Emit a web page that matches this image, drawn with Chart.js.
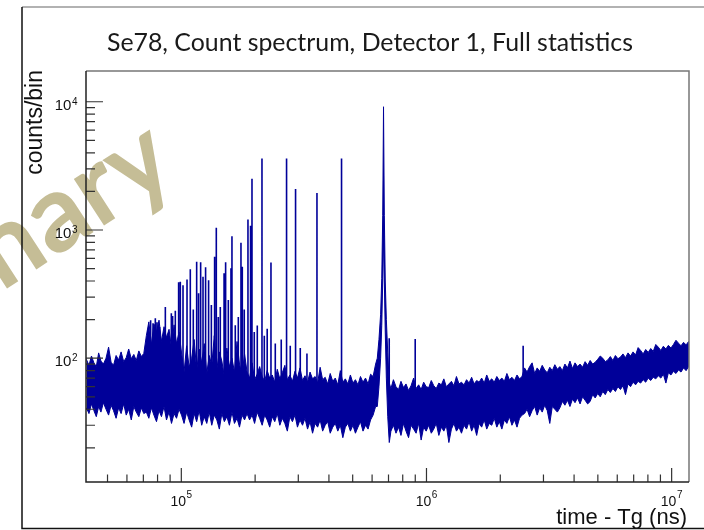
<!DOCTYPE html>
<html><head><meta charset="utf-8">
<script src="https://cdn.jsdelivr.net/npm/chart.js@4.4.1/dist/chart.umd.min.js"></script>
<style>html,body{margin:0;padding:0;background:#fff;}canvas{display:block;}</style>
</head><body>
<canvas id="c" width="704" height="530"></canvas>
<script>
const chartTitle = 'Se78, Count spectrum, Detector 1, Full statistics';
const xAxisTitle = 'time - Tg (ns)';
const yAxisTitle = 'counts/bin';
const watermarkText = 'Preliminary';

const xRange = [40850, 11770000];
const yRange = [10.83, 17370];
const xMajorTicks = [1e5, 1e6, 1e7];
const xTickExponents = ['5', '6', '7'];
const xMinorTicks = [5e4, 6e4, 7e4, 8e4, 9e4, 2e5, 3e5, 4e5, 5e5, 6e5, 7e5, 8e5, 9e5, 2e6, 3e6, 4e6, 5e6, 6e6, 7e6, 8e6, 9e6];
const yMajorTicks = [1e2, 1e3, 1e4];
const yTickExponents = ['2', '3', '4'];
const yMinorTicks = [20, 30, 40, 50, 60, 70, 80, 90, 200, 300, 400, 500, 600, 700, 800, 900, 2000, 3000, 4000, 5000, 6000, 7000, 8000, 9000];

// background band of the spectrum: bin time (ns), upper and lower envelope of counts/bin
const bandTimes = [
  41000, 42000, 43000, 44000, 45000, 46000, 47000, 48100, 49300, 50500, 51700, 52900, 54200, 55500, 56800, 58200, 59600, 61000, 62500, 64000, 65500, 67100, 68700, 70300,
  72000, 73700, 75500, 77300, 79200, 81100, 83000, 85000, 87000, 89100, 91200, 93400, 95600, 97900,
  100200, 102600, 105100, 107600, 110200, 112800, 115500, 118300, 121100, 124000, 127000, 130000, 133100, 136300, 139600, 142900, 146300, 149800, 153400, 157100, 160900, 164700, 168700, 172700, 176800, 181100,
  185400, 189800, 194400, 199000, 203800, 208700, 213700, 218800, 224000, 229400, 234900, 240500, 246300, 252200, 258200, 264400, 270700, 277200, 283900, 290700,
  297600, 304800, 312100, 319500, 327200, 335000, 343000, 351300, 359700, 368300, 377100, 386200, 395400, 404900, 414600, 424600, 434700, 445200, 455800, 466700,
  477900, 489400, 501100, 513100, 525400, 538000, 550900, 564100, 577700, 591500, 605700, 620200,
  630000, 640000, 650000, 657000, 663000, 668000, 673000, 679000, 686000, 695000,
  705000, 716000, 733000, 751000, 769000, 787000, 806000, 825000, 845000, 865000, 886000, 907000, 929000, 951000, 974000, 997000, 1021000, 1046000, 1071000, 1096000,
  1123000, 1150000, 1177000, 1205000, 1234000, 1264000, 1294000, 1325000, 1357000, 1389000, 1423000, 1457000, 1492000, 1528000, 1564000, 1602000, 1640000, 1679000, 1720000, 1761000,
  1803000, 1846000, 1890000, 1936000, 1982000, 2030000, 2078000, 2128000, 2179000, 2231000, 2285000, 2340000, 2396000, 2453000,
  2512000, 2572000, 2634000, 2697000, 2762000, 2828000, 2896000, 2965000, 3036000, 3109000, 3184000, 3260000, 3338000, 3418000, 3500000, 3584000, 3670000, 3758000, 3848000, 3941000,
  4035000, 4132000, 4231000, 4332000, 4436000, 4543000, 4652000, 4763000, 4877000, 4994000, 5114000, 5237000, 5362000, 5491000, 5623000, 5758000, 5896000, 6037000, 6182000, 6330000,
  6482000, 6637000, 6797000, 6960000, 7127000, 7298000, 7473000, 7652000, 7836000, 8024000, 8216000, 8413000, 8615000, 8822000, 9034000, 9251000, 9473000, 9700000, 9933000, 10171000,
  10415000, 10665000, 10921000, 11183000, 11452000, 11727000, 11900000
];
const bandUpper = [
  98, 88, 104, 92, 86, 110, 95, 90, 100, 122, 93, 88, 105, 97, 112, 94, 101, 118, 99, 107, 96, 114, 103, 109,
  150, 192, 128, 185, 160, 198, 135, 176, 145, 168, 120, 182, 130, 160,
  110, 78, 125, 85, 100, 140, 80, 118, 92, 130, 76, 105, 88, 150, 82, 112, 95, 72, 120, 86, 100, 78, 135, 90, 74, 108,
  78, 70, 92, 68, 75, 86, 72, 66, 80, 70, 74, 65, 82, 69, 77, 88, 68, 74, 66, 79,
  70, 84, 67, 73, 65, 78, 69, 72, 64, 85, 68, 71, 63, 76, 66, 70, 62, 80, 65, 69,
  63, 74, 64, 68, 62, 72, 65, 70, 63, 75, 72, 90,
  100, 140, 220, 420, 1300, 9140, 1300, 400, 200, 110,
  64, 58, 68, 60, 57, 66, 59, 63, 56, 61, 70, 58, 62, 57, 65, 60, 59, 67, 61, 58,
  64, 62, 69, 60, 63, 66, 61, 72, 63, 65, 62, 68, 64, 71, 63, 67, 65, 70, 64, 74,
  66, 69, 65, 72, 67, 70, 66, 76, 68, 71, 67, 74, 69, 72,
  84, 78, 86, 92, 76, 84, 79, 88, 81, 77, 85, 80, 89, 82, 86, 80, 90, 84, 95, 83,
  92, 86, 90, 85, 94, 88, 96, 90, 93, 98, 104, 100, 94, 97, 103, 96, 105, 99, 102, 108,
  101, 110, 104, 112, 106, 121, 115, 108, 117, 111, 119, 113, 128, 122, 115, 124, 118, 126, 120, 128,
  138, 131, 125, 133, 127, 135, 130
];
const bandLower = [
  41, 37, 44, 39, 35, 42, 38, 45, 40, 36, 43, 39, 34, 41, 37, 44, 36, 40, 33, 42, 38, 35, 41, 37,
  38, 34, 41, 36, 32, 39, 35, 42, 33, 38, 31, 37, 34, 40,
  36, 31, 38, 33, 29, 37, 32, 39, 30, 35, 31, 38, 30, 36, 33, 28, 37, 32, 35, 30, 38, 31, 34, 29, 36, 33,
  37, 33, 36, 31, 38, 34, 30, 36, 33, 29, 35, 32, 37, 30, 34, 31, 27, 35, 32, 36,
  29, 33, 30, 34, 28, 32, 26, 31, 29, 33, 27, 30, 32, 26, 29, 31, 27, 30, 24, 29,
  31, 27, 30, 26, 29, 32, 27, 30, 28, 33, 36, 42,
  42, 60, 100, 180, 400, 900, 400, 160, 70, 35,
  22, 27, 30, 26, 29, 25, 31, 27, 24, 30, 28, 26, 31, 23, 29, 27, 30, 26, 28, 31,
  25, 29, 27, 30, 22, 28, 31, 27, 29, 26, 30, 28, 32, 27, 30, 25, 31, 29, 33, 28,
  31, 30, 34, 29, 32, 28, 33, 31, 35, 30, 33, 29, 34, 36,
  37, 40, 35, 39, 42, 36, 41, 38, 43, 39, 31, 42, 40, 38, 41, 46, 43, 47, 42, 48,
  45, 49, 44, 50, 47, 44, 46, 52, 49, 53, 50, 55, 52, 57, 54, 58, 55, 60, 57, 61,
  52, 63, 60, 65, 62, 66, 64, 68, 65, 70, 67, 71, 69, 73, 70, 75, 64, 77, 74, 79,
  76, 81, 78, 84, 80, 86, 83
];

// narrow resonance peaks: bin time (ns), peak counts, counts at the foot of the peak
const peakTimes = [
  73150, 74960, 76660, 78340, 79600, 81560, 86060, 91050, 92150, 94520, 97500, 99060, 101600, 105500, 108800,
  111900, 115500, 117600, 119900, 122600, 125600, 129200, 132600, 136700, 138900, 141500, 144200, 149400, 151600, 155500,
  159400, 160900, 166000, 170800, 175100, 177300, 180600, 187000, 191600, 194200, 198400, 204100, 213300, 218000, 224000,
  232100, 241700, 255600, 268700, 278200, 292400, 305600, 325400, 357500, 450300, 704700, 899500, 2479000
];
const peakCounts = [
  165, 198, 187, 205, 191, 175, 251, 224, 213, 235, 392, 394, 371, 411, 495,
  240, 565, 321, 561, 431, 511, 406, 260, 617, 1040, 210, 251, 460, 561, 284,
  504, 895, 181, 210, 794, 516, 240, 1209, 1077, 2505, 160, 180, 3615, 150, 170,
  558, 130, 140, 3615, 125, 2083, 120, 109, 1940, 3615, 143, 141, 125
];
const peakFloor = [
  60, 58, 60, 58, 60, 58, 60, 58, 58, 56, 55, 52, 50, 52, 54,
  50, 52, 51, 53, 50, 52, 51, 50, 52, 54, 50, 49, 52, 51, 50,
  52, 54, 49, 50, 52, 51, 50, 48, 50, 52, 48, 50, 50, 48, 49,
  50, 48, 47, 50, 47, 48, 47, 46, 48, 47, 45, 44, 50
];

const blue = '#000099';
const bandUpperData = bandTimes.map((t, i) => ({x: t, y: bandUpper[i]}));
const bandLowerData = bandTimes.map((t, i) => ({x: t, y: bandLower[i]}));
const peakData = [];
peakTimes.forEach((t, i) => {
  peakData.push({x: t, y: peakFloor[i]}, {x: t, y: peakCounts[i]}, {x: t, y: null});
});

function drawPow(c, xLeft, baseY, supBaseY, exp, mainPx, supPx) {
  c.font = mainPx + 'px "Liberation Sans", Arial, sans-serif';
  c.textAlign = 'left';
  c.textBaseline = 'alphabetic';
  c.fillText('10', xLeft, baseY);
  const w = c.measureText('10').width;
  c.font = supPx + 'px "Liberation Sans", Arial, sans-serif';
  c.fillText(exp, xLeft + w + 0.5, supBaseY);
}
function powWidth(c, exp, mainPx, supPx) {
  c.font = mainPx + 'px "Liberation Sans", Arial, sans-serif';
  const w1 = c.measureText('10').width;
  c.font = supPx + 'px "Liberation Sans", Arial, sans-serif';
  return w1 + 0.5 + c.measureText(exp).width;
}

const decor = {
  id: 'decor',
  beforeDraw(chart) {
    const c = chart.ctx;
    c.save();
    c.fillStyle = '#ffffff';
    c.fillRect(0, 0, chart.width, chart.height);
    c.translate(180, 176);
    c.rotate(-33 * Math.PI / 180);
    c.font = 'bold 108px Lato, sans-serif';
    c.fillStyle = '#c5bd96';
    c.textAlign = 'right';
    c.textBaseline = 'alphabetic';
    c.fillText(watermarkText, 0, 0);
    c.restore();
  },
  afterDatasetsDraw(chart) {
    const c = chart.ctx, a = chart.chartArea, xs = chart.scales.x, ys = chart.scales.y;
    c.save();
    c.strokeStyle = '#333333';
    c.lineWidth = 1.2;
    c.beginPath();
    xMajorTicks.forEach(v => { const p = xs.getPixelForValue(v); c.moveTo(p, a.bottom); c.lineTo(p, a.bottom - 14); });
    xMinorTicks.forEach(v => { const p = xs.getPixelForValue(v); c.moveTo(p, a.bottom); c.lineTo(p, a.bottom - 7.5); });
    yMajorTicks.forEach(v => { const p = ys.getPixelForValue(v); c.moveTo(a.left, p); c.lineTo(a.left + 17, p); });
    yMinorTicks.forEach(v => { const p = ys.getPixelForValue(v); c.moveTo(a.left, p); c.lineTo(a.left + 9, p); });
    c.stroke();
    c.lineWidth = 1.5;
    c.strokeStyle = '#777777';
    c.beginPath();
    c.moveTo(a.left, a.top); c.lineTo(a.right, a.top); c.lineTo(a.right, a.bottom);
    c.stroke();
    c.strokeStyle = '#222222';
    c.beginPath();
    c.moveTo(a.left, a.top); c.lineTo(a.left, a.bottom); c.lineTo(a.right, a.bottom);
    c.stroke();
    c.restore();
  },
  afterDraw(chart) {
    const c = chart.ctx, a = chart.chartArea, xs = chart.scales.x, ys = chart.scales.y;
    c.save();
    c.fillStyle = '#111111';
    xMajorTicks.forEach((v, i) => {
      const p = xs.getPixelForValue(v);
      const w = powWidth(c, xTickExponents[i], 14, 10);
      drawPow(c, p - w / 2, a.bottom + 24, a.bottom + 16, xTickExponents[i], 14, 10);
    });
    yMajorTicks.forEach((v, i) => {
      const p = ys.getPixelForValue(v);
      const w = powWidth(c, yTickExponents[i], 15, 10);
      drawPow(c, a.left - 8.5 - w, p + 8, p + 3, yTickExponents[i], 15, 10);
    });
    c.font = '22px "Liberation Sans", Arial, sans-serif';
    c.textAlign = 'right';
    c.textBaseline = 'alphabetic';
    c.fillText(xAxisTitle, a.right - 2, 524);
    c.save();
    c.translate(42, a.top - 1);
    c.rotate(-Math.PI / 2);
    c.font = '23px "Liberation Sans", Arial, sans-serif';
    c.fillText(yAxisTitle, 0, 0);
    c.restore();
    c.fillStyle = '#1a1a1a';
    c.font = '22px Lato, sans-serif';
    const tw = c.measureText(chartTitle).width;
    const fs = 22 * 526 / tw;
    c.font = fs.toFixed(2) + 'px Lato, sans-serif';
    c.textAlign = 'center';
    c.fillText(chartTitle, 370, 51);
    c.strokeStyle = '#999999';
    c.lineWidth = 1.5;
    c.beginPath(); c.moveTo(22, 7); c.lineTo(704, 7); c.stroke();
    c.strokeStyle = '#111111';
    c.beginPath(); c.moveTo(22, 7); c.lineTo(22, 528.5); c.lineTo(704, 528.5); c.stroke();
    c.restore();
  }
};

new Chart(document.getElementById('c'), {
  type: 'line',
  data: {
    datasets: [
      {label: 'lower', data: bandLowerData, borderColor: blue, borderWidth: 1, pointRadius: 0, fill: false, clip: 0},
      {label: 'upper', data: bandUpperData, borderColor: blue, backgroundColor: blue, borderWidth: 1, pointRadius: 0, fill: '-1', clip: 0},
      {label: 'peaks', data: peakData, borderColor: blue, borderWidth: 1.6, pointRadius: 0, fill: false, spanGaps: false, clip: 0}
    ]
  },
  options: {
    responsive: false,
    animation: false,
    devicePixelRatio: 1,
    events: [],
    layout: {padding: {left: 86, top: 71, right: 15, bottom: 48}},
    elements: {line: {tension: 0}},
    plugins: {legend: {display: false}, tooltip: {enabled: false}, title: {display: false}},
    scales: {
      x: {type: 'logarithmic', min: xRange[0], max: xRange[1], display: false},
      y: {type: 'logarithmic', min: yRange[0], max: yRange[1], display: false}
    }
  },
  plugins: [decor]
});
</script>
</body></html>
